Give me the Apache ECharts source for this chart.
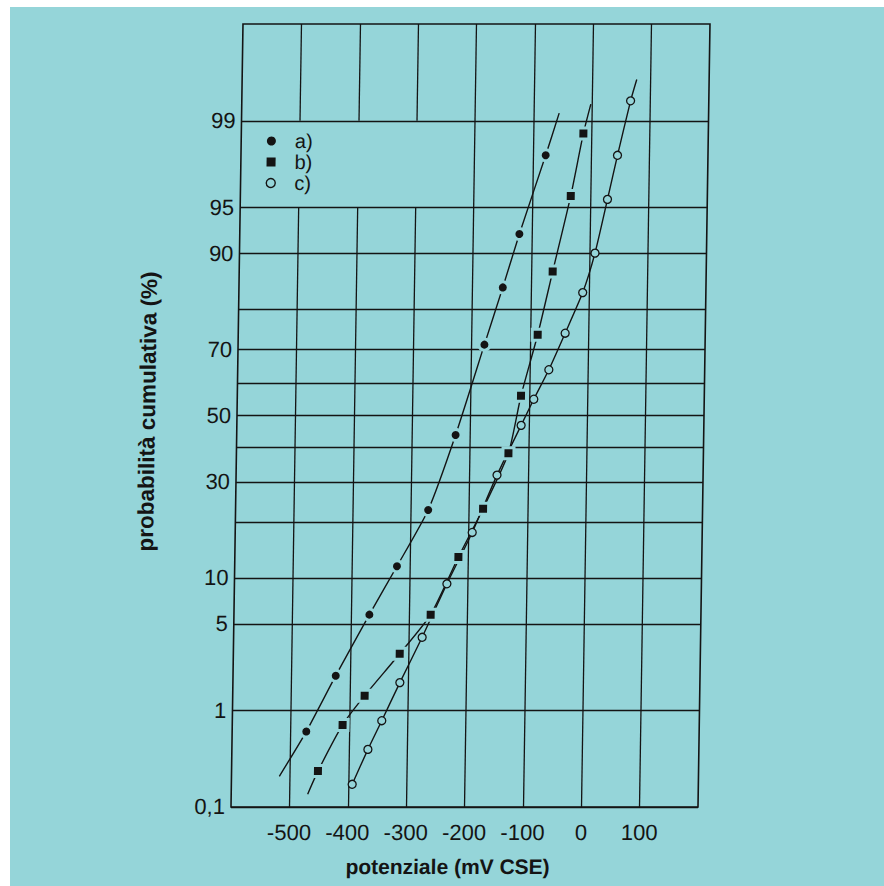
<!DOCTYPE html>
<html>
<head>
<meta charset="utf-8">
<script src="https://cdn.jsdelivr.net/npm/echarts@6/dist/echarts.min.js"></script>
<style>
html,body{margin:0;padding:0;background:#ffffff;width:884px;height:886px;overflow:hidden}
#bg{position:absolute;left:10px;top:7px;width:874px;height:879px;background:#95d5d9}
#chart{position:absolute;left:0;top:0;width:884px;height:886px;transform:skewX(-0.877deg);transform-origin:0 807px}
</style>
</head>
<body>
<div id="bg"></div>
<div id="chart"></div>
<script>
// ---- data (x = potenziale mV CSE, p = probabilità cumulativa %) ----
const aX = [-473, -424, -368, -322, -270, -225, -178, -148, -121, -78];
const aP = [0.63, 2.0, 5.8, 11.7, 22.8, 43.9, 71.2, 84.4, 92.4, 98.0];
const aLineStart = [-518, 0.22];
const aLineEnd = [-56, 99.15];

const bX = [-452, -411, -374, -315, -263, -217, -176, -134, -114, -87, -63, -34, -14];
const bP = [0.25, 0.73, 1.35, 3.0, 5.8, 13.2, 23.1, 38.3, 56.2, 73.8, 87.2, 95.85, 98.7];
const bLineStart = [-469, 0.14];
const bLineEnd = [-2, 99.3];

const cX = [-393, -367, -344, -314, -277, -236, -194, -153, -113, -92, -67, -40, -11, 9, 29, 45, 66];
const cP = [0.18, 0.42, 0.80, 1.75, 4.0, 9.2, 17.8, 31.9, 46.9, 55.1, 64.1, 74.2, 83.4, 90.0, 95.6, 98.0, 99.35];
const cLineStart = null;
const cLineEnd = [76, 99.6];

const seriesNames = ['a)', 'b)', 'c)'];

// axes
const xRange = [-600, 200];
const xTickValues = [-500, -400, -300, -200, -100, 0, 100];
const xGridValues = [-500, -400, -300, -200, -100, 0, 100];
const yRangeP = [0.1, 99.9];
const yTickP = [0.1, 1, 5, 10, 30, 50, 70, 90, 95, 99];
const yTickLabels = ['0,1', '1', '5', '10', '30', '50', '70', '90', '95', '99'];
const yGridP = [0.1, 1, 5, 10, 20, 30, 40, 50, 60, 70, 80, 90, 95, 99];
// vertical grid lines interrupted behind the legend, between these percentages
const legendGapColumns = [-500, -400, -300];
const legendGapP = [95, 99];

// ---- normal probability scale (probit) ----
function probit(p) {
  const a=[-3.969683028665376e+01,2.209460984245205e+02,-2.759285104469687e+02,1.383577518672690e+02,-3.066479806614716e+01,2.506628277459239e+00];
  const b=[-5.447609879822406e+01,1.615858368580409e+02,-1.556989798598866e+02,6.680131188771972e+01,-1.328068155288572e+01];
  const c=[-7.784894002430293e-03,-3.223964580411365e-01,-2.400758277161838e+00,-2.549732539343734e+00,4.374664141464968e+00,2.938163982698783e+00];
  const d=[7.784695709041462e-03,3.224671290700398e-01,2.445134137142996e+00,3.754408661907416e+00];
  const pl=0.02425, ph=1-pl; let q, r;
  if (p < pl) { q=Math.sqrt(-2*Math.log(p)); return (((((c[0]*q+c[1])*q+c[2])*q+c[3])*q+c[4])*q+c[5])/((((d[0]*q+d[1])*q+d[2])*q+d[3])*q+1); }
  if (p <= ph) { q=p-0.5; r=q*q; return (((((a[0]*r+a[1])*r+a[2])*r+a[3])*r+a[4])*r+a[5])*q/(((((b[0]*r+b[1])*r+b[2])*r+b[3])*r+b[4])*r+1); }
  q=Math.sqrt(-2*Math.log(1-p)); return -(((((c[0]*q+c[1])*q+c[2])*q+c[3])*q+c[4])*q+c[5])/((((d[0]*q+d[1])*q+d[2])*q+d[3])*q+1);
}
const z = p => probit(p / 100);

const BG = '#95d5d9';
const INK = '#141414';
const FONT = 'Liberation Sans';

function buildData(xs, ps, start, end) {
  const out = [];
  if (start) out.push({ value: [start[0], z(start[1])], symbol: 'none' });
  xs.forEach((x, i) => out.push([x, z(ps[i])]));
  if (end) out.push({ value: [end[0], z(end[1])], symbol: 'none' });
  return out;
}

// grid lines
const yMin = z(yRangeP[0]), yMax = z(yRangeP[1]);
const gridLines = [];
yGridP.forEach(p => gridLines.push([{ coord: [xRange[0], z(p)] }, { coord: [xRange[1], z(p)] }]));
xGridValues.forEach(x => {
  if (legendGapColumns.includes(x)) {
    gridLines.push([{ coord: [x, yMin] }, { coord: [x, z(legendGapP[0])] }]);
    gridLines.push([{ coord: [x, z(legendGapP[1])] }, { coord: [x, yMax] }]);
  } else {
    gridLines.push([{ coord: [x, yMin] }, { coord: [x, yMax] }]);
  }
});

const yTickZ = yTickP.map(z);

const chart = echarts.init(document.getElementById('chart'), null, { renderer: 'svg' });
chart.setOption({
  animation: false,
  backgroundColor: 'transparent',
  textStyle: { fontFamily: FONT, color: INK },
  grid: { left: 231, top: 24, width: 467, height: 783, show: true, borderColor: INK, borderWidth: 1.6, backgroundColor: 'transparent' },
  legend: {
    orient: 'vertical', left: 256, top: 131, padding: 0, itemGap: 1, itemWidth: 9, itemHeight: 9,
    textStyle: { fontSize: 20, lineHeight: 20, color: INK, fontFamily: FONT, padding: [0, 0, 0, 14] },
    selectedMode: false,
    data: [
      { name: 'a)', icon: 'circle', itemStyle: { color: INK, borderWidth: 0 } },
      { name: 'b)', icon: 'rect', itemStyle: { color: INK, borderWidth: 0 } },
      { name: 'c)', icon: 'circle', itemStyle: { color: BG, borderColor: INK, borderWidth: 1.4 } }
    ]
  },
  xAxis: {
    type: 'value', min: xRange[0], max: xRange[1], interval: 100,
    axisLine: { show: false }, axisTick: { show: false }, splitLine: { show: false },
    axisLabel: {
      margin: 14, fontSize: 22, color: INK, fontFamily: FONT,
      formatter: v => xTickValues.includes(v) ? String(v) : ''
    },
    name: 'potenziale (mV CSE)', nameLocation: 'middle', nameGap: 49,
    nameTextStyle: { fontSize: 21, fontWeight: 'bold', color: INK, fontFamily: FONT, padding: [0, 32, 0, 0] }
  },
  yAxis: {
    type: 'value', min: yMin, max: yMax,
    axisLine: { show: false }, axisTick: { show: false }, splitLine: { show: false },
    axisLabel: {
      customValues: yTickZ, margin: 6, fontSize: 22, color: INK, fontFamily: FONT,
      formatter: v => {
        let best = 0, bd = Infinity;
        yTickZ.forEach((t, i) => { const dd = Math.abs(t - v); if (dd < bd) { bd = dd; best = i; } });
        return bd < 1e-6 ? yTickLabels[best] : '';
      }
    },
    name: 'probabilità cumulativa (%)', nameLocation: 'middle', nameGap: 78,
    nameTextStyle: { fontSize: 22.5, fontWeight: 'bold', color: INK, fontFamily: FONT, padding: [0, 0, 0, 8] }
  },
  series: [
    {
      name: 'grid', type: 'line', data: [], z: 1, silent: true,
      markLine: { silent: true, symbol: ['none', 'none'], label: { show: false }, z: 1,
        lineStyle: { type: 'solid', color: INK, width: 1.3 }, emphasis: { disabled: true }, data: gridLines }
    },
    {
      name: seriesNames[0], type: 'line', z: 3, data: buildData(aX, aP, aLineStart, aLineEnd),
      symbol: 'circle', symbolSize: 11, showAllSymbol: true, smooth: 0.2,
      lineStyle: { color: INK, width: 1.4 },
      itemStyle: { color: INK, borderColor: BG, borderWidth: 3 }
    },
    {
      name: seriesNames[1], type: 'line', z: 3, data: buildData(bX, bP, bLineStart, bLineEnd),
      symbol: 'rect', symbolSize: 11, showAllSymbol: true, smooth: 0.2,
      lineStyle: { color: INK, width: 1.4 },
      itemStyle: { color: INK, borderColor: BG, borderWidth: 3 }
    },
    {
      name: seriesNames[2], type: 'line', z: 3, data: buildData(cX, cP, cLineStart, cLineEnd),
      symbol: 'circle', symbolSize: 8, showAllSymbol: true, smooth: 0.2,
      lineStyle: { color: INK, width: 1.4 },
      itemStyle: { color: BG, borderColor: INK, borderWidth: 1.3 }
    }
  ]
});
</script>
</body>
</html>
